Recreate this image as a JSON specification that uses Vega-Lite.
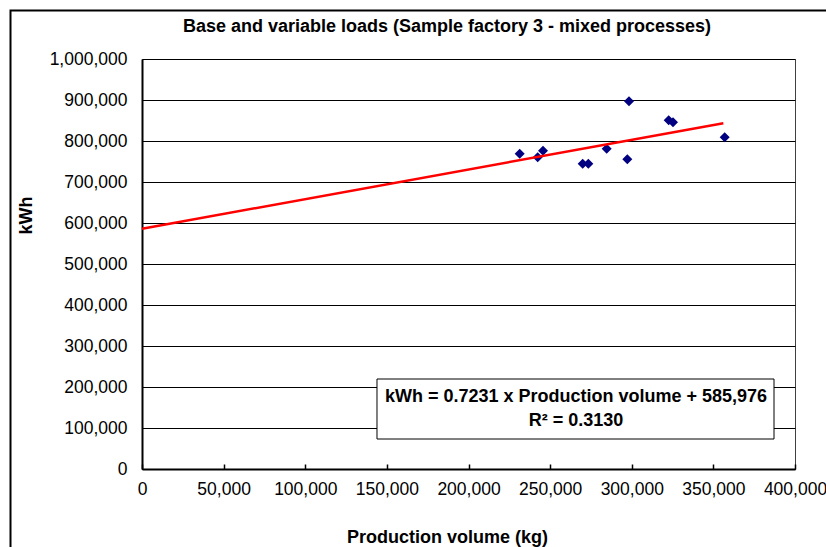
{
  "$schema": "https://vega.github.io/schema/vega-lite/v6.json",
  "autosize": "none",
  "width": 653,
  "height": 410,
  "padding": {"left": 142, "top": 59, "right": 31, "bottom": 78},
  "background": "white",
  "config": {
    "view": {"stroke": "#404040", "strokeWidth": 1},
    "axis": {"labelFont": "Liberation Sans", "titleFont": "Liberation Sans", "labelColor": "black", "titleColor": "black"}
  },
  "datasets": {
    "points": [
      {"production": 231360, "kwh": 769000},
      {"production": 242390, "kwh": 760200},
      {"production": 245640, "kwh": 776300},
      {"production": 269950, "kwh": 744600},
      {"production": 273390, "kwh": 744600},
      {"production": 284650, "kwh": 781200},
      {"production": 298320, "kwh": 896800},
      {"production": 297280, "kwh": 755400},
      {"production": 322630, "kwh": 850500},
      {"production": 325270, "kwh": 845600},
      {"production": 356940, "kwh": 809000}
    ],
    "trend": [
      {"production": 0, "kwh": 585976},
      {"production": 356100, "kwh": 843466}
    ],
    "label": [
      {"line": "kWh = 0.7231 x Production volume + 585,976", "production": 265850, "kwh": 176800},
      {"line": "R² = 0.3130", "production": 265850, "kwh": 117100}
    ],
    "heading": [
      {"line": "Base and variable loads (Sample factory 3 - mixed processes)", "production": 186830, "kwh": 1078000}
    ]
  },
  "layer": [
    {
      "data": {"values": [{}]},
      "mark": {"type": "rect", "fill": null, "fillOpacity": 0, "stroke": "black", "strokeWidth": 2, "clip": false},
      "encoding": {
        "x": {"datum": -80550, "type": "quantitative"},
        "x2": {"datum": 427560},
        "y": {"datum": 1118300, "type": "quantitative"},
        "y2": {"datum": -222000}
      }
    },
    {
      "data": {"name": "points"},
      "mark": {"type": "point", "shape": "diamond", "filled": true, "color": "#000080", "size": 100, "opacity": 1},
      "encoding": {
        "x": {
          "field": "production", "type": "quantitative",
          "scale": {"domain": [0, 400000], "nice": false},
          "axis": {
            "title": "Production volume (kg)",
            "titleFontSize": 18, "titleFontWeight": "bold",
            "titleX": 305, "titleY": 68, "titleBaseline": "middle", "titleAlign": "center",
            "values": [0, 50000, 100000, 150000, 200000, 250000, 300000, 350000, 400000],
            "format": ",d",
            "labelFontSize": 17.5, "labelPadding": 16, "labelBaseline": "top",
            "labelFlush": false, "labelOverlap": false,
            "grid": false,
            "ticks": true, "tickSize": -5, "tickColor": "black", "tickWidth": 1.5,
            "domain": true, "domainColor": "black", "domainWidth": 2
          }
        },
        "y": {
          "field": "kwh", "type": "quantitative",
          "scale": {"domain": [0, 1000000], "nice": false},
          "axis": {
            "title": "kWh",
            "titleFontSize": 18, "titleFontWeight": "bold",
            "titleX": -116, "titleY": 156, "titleBaseline": "middle", "titleAlign": "center", "titleAngle": -90,
            "values": [0, 100000, 200000, 300000, 400000, 500000, 600000, 700000, 800000, 900000, 1000000],
            "format": ",d",
            "labelFontSize": 17.5, "labelPadding": 15, "labelBaseline": "middle",
            "labelFlush": false, "labelOverlap": false,
            "grid": true, "gridColor": "black", "gridWidth": 1,
            "ticks": false,
            "domain": true, "domainColor": "black", "domainWidth": 2
          }
        }
      }
    },
    {
      "data": {"name": "trend"},
      "mark": {"type": "line", "color": "#FF0000", "strokeWidth": 2.5},
      "encoding": {
        "x": {"field": "production", "type": "quantitative"},
        "y": {"field": "kwh", "type": "quantitative"}
      }
    },
    {
      "data": {"values": [{}]},
      "mark": {"type": "rect", "fill": "white", "stroke": "black", "strokeWidth": 1},
      "encoding": {
        "x": {"datum": 143950, "type": "quantitative"},
        "x2": {"datum": 387140},
        "y": {"datum": 219500, "type": "quantitative"},
        "y2": {"datum": 73170}
      }
    },
    {
      "data": {"name": "label"},
      "mark": {"type": "text", "font": "Liberation Sans", "fontSize": 18, "fontWeight": "bold", "color": "black", "align": "center", "baseline": "middle"},
      "encoding": {
        "x": {"field": "production", "type": "quantitative"},
        "y": {"field": "kwh", "type": "quantitative"},
        "text": {"field": "line"}
      }
    },
    {
      "data": {"name": "heading"},
      "mark": {"type": "text", "font": "Liberation Sans", "fontSize": 18, "fontWeight": "bold", "color": "black", "align": "center", "baseline": "middle", "clip": false},
      "encoding": {
        "x": {"field": "production", "type": "quantitative"},
        "y": {"field": "kwh", "type": "quantitative"},
        "text": {"field": "line"}
      }
    }
  ]
}
